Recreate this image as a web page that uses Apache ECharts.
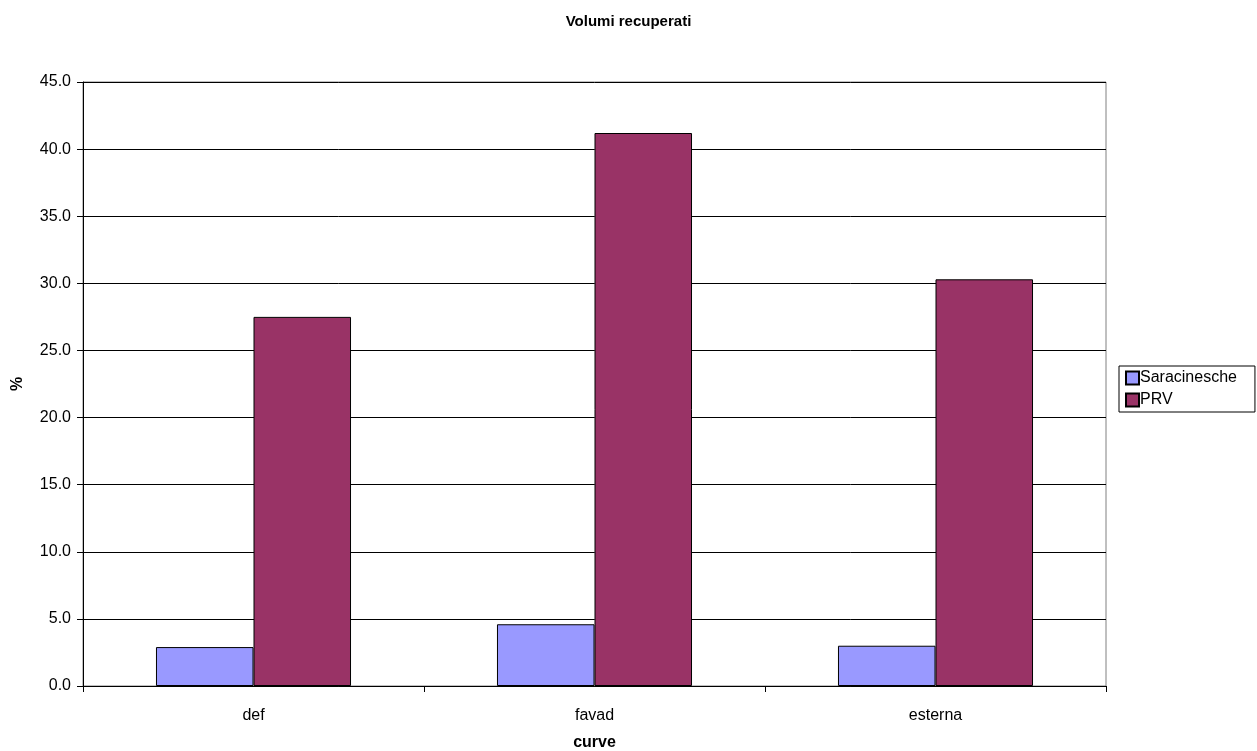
<!DOCTYPE html>
<html>
<head>
<meta charset="utf-8">
<script src="https://cdn.jsdelivr.net/npm/echarts@6/dist/echarts.min.js"></script>
<style>
  html, body { margin: 0; padding: 0; background: #fff; }
  #chart { width: 1257px; height: 751px; }
</style>
</head>
<body>
<div id="chart"></div>
<script>
// Recovered volume share (%) per demand curve
const categories = ['def', 'favad', 'esterna'];
const seriesNames = ['Saracinesche', 'PRV'];
const saracinesche = [2.9, 4.6, 3.0];
const prv = [27.5, 41.2, 30.3];

const FONT = '"Liberation Sans", Arial, sans-serif';

const chart = echarts.init(document.getElementById('chart'), null, { renderer: 'canvas' });

chart.setOption({
  animation: false,
  backgroundColor: '#ffffff',
  textStyle: { fontFamily: FONT },
  title: {
    text: 'Volumi recuperati',
    left: 'center',
    top: 9,
    textStyle: { fontFamily: FONT, fontSize: 15, fontWeight: 'bold', color: '#000' }
  },
  legend: {
    orient: 'vertical',
    left: 1119,
    top: 366,
    padding: [4, 18, 4, 6],
    itemGap: 6,
    itemWidth: 13,
    itemHeight: 13,
    borderColor: '#000',
    borderWidth: 1,
    icon: 'rect',
    textStyle: { fontFamily: FONT, fontSize: 16, color: '#000', padding: [0, 0, 0, -4] },
    data: seriesNames
  },
  grid: {
    left: 83,
    right: 151,
    top: 82,
    bottom: 65,
    show: true,
    borderColor: '#808080',
    borderWidth: 1,
    containLabel: false,
    outerBoundsMode: 'none'
  },
  xAxis: {
    type: 'category',
    data: categories,
    name: 'curve',
    nameLocation: 'middle',
    nameGap: 49,
    nameTextStyle: { fontFamily: FONT, fontSize: 16, fontWeight: 'bold', color: '#000' },
    axisLine: { lineStyle: { color: '#000', width: 1 } },
    axisTick: { show: true, alignWithLabel: false, length: 6, lineStyle: { color: '#000' } },
    axisLabel: { fontFamily: FONT, fontSize: 16, color: '#000', margin: 22 },
    splitLine: { show: false }
  },
  yAxis: {
    type: 'value',
    min: 0,
    max: 45,
    interval: 5,
    name: '%',
    nameLocation: 'middle',
    nameGap: 57,
    nameRotate: 90,
    nameTextStyle: { fontFamily: FONT, fontSize: 16, fontWeight: 'bold', color: '#000' },
    axisLine: { show: true, lineStyle: { color: '#000', width: 1 } },
    axisTick: { show: true, inside: false, length: 6, lineStyle: { color: '#000' } },
    axisLabel: {
      fontFamily: FONT, fontSize: 16, color: '#000', margin: 12,
      formatter: v => v.toFixed(1)
    },
    splitLine: { show: true, lineStyle: { color: '#000', width: 1 } }
  },
  series: [
    {
      name: seriesNames[0],
      type: 'bar',
      data: saracinesche,
      barGap: '0%',
      barCategoryGap: '42.8%',
      itemStyle: { color: '#9999FF', borderColor: '#000', borderWidth: 1 }
    },
    {
      name: seriesNames[1],
      type: 'bar',
      data: prv,
      barGap: '0%',
      barCategoryGap: '42.8%',
      itemStyle: { color: '#993366', borderColor: '#000', borderWidth: 1 }
    }
  ]
});
</script>
</body>
</html>
